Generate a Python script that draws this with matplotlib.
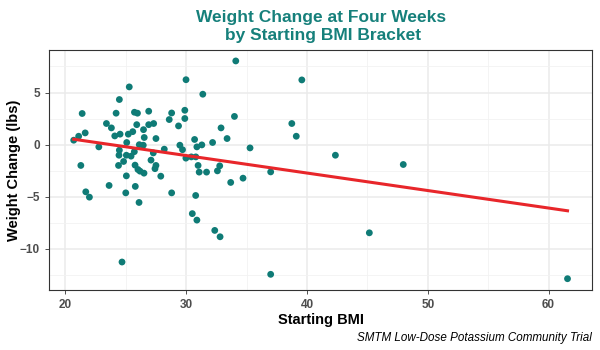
import numpy as np
import matplotlib.pyplot as plt
from matplotlib.ticker import MultipleLocator

# Starting BMI and weight change (lbs)
bmi = [20.68, 21.09, 21.63, 21.38, 21.27, 21.68, 21.98, 22.76, 23.39, 23.80,
       23.61, 24.08, 24.19, 24.46, 24.52, 24.46, 24.43, 24.39, 24.81, 24.68,
       25.04, 25.07, 25.04, 24.99, 25.20, 25.28, 25.43, 25.57, 25.71, 25.96,
       25.70, 25.90, 25.76, 26.00, 26.17, 26.50, 25.78, 26.09, 26.11, 26.44,
       26.46, 26.52, 26.89, 26.89, 27.30, 27.27, 27.08, 27.49, 27.41, 27.49,
       27.89, 28.18, 28.59, 28.79, 28.79, 29.36, 29.47, 29.69, 29.88, 29.88,
       29.98, 29.97, 30.42, 30.79, 30.69, 30.78, 30.50, 30.88, 30.88, 31.29,
       30.98, 31.07, 31.37, 31.68, 32.18, 32.36, 32.80, 32.58, 32.77, 32.88,
       33.38, 33.68, 33.99, 34.10, 34.70, 35.28, 36.99, 36.99, 38.74, 39.11,
       39.57, 42.35, 45.16, 47.97, 61.57]
weight_change = [0.43, 0.81, 1.13, 2.99, -1.99, -4.52, -5.03, -0.21, 2.03, 1.61,
                 -3.91, 0.84, 3.02, 4.33, 1.01, -0.53, -1.01, -1.99, -1.61, -11.25,
                 -1.01, 0.21, -2.99, -4.62, 1.01, 5.54, -1.10, 1.25, 3.11, 3.02,
                 -0.67, 1.92, -1.96, -2.38, -2.54, -2.73, -4.00, -5.54, 0.00, -0.05,
                 1.44, 0.69, 3.21, 1.92, 2.03, -0.79, -1.48, -1.99, -2.30, 0.59,
                 -3.02, -0.43, 2.41, 3.04, -4.62, 1.80, -0.05, -0.48, 3.30, 2.51,
                 6.23, -1.29, -1.17, -1.17, 0.50, -4.87, -6.61, -7.23, -0.21, -0.02,
                 -1.99, -2.63, 4.84, -2.63, 0.21, -8.22, -8.83, -2.51, -2.03, 1.61,
                 0.59, -3.62, 2.71, 8.03, -3.21, -0.31, -2.61, -12.43, 2.03, 0.81,
                 6.21, -1.01, -8.45, -1.90, -12.85]

x_ticks = [20, 30, 40, 50, 60]
y_ticks = [-10, -5, 0, 5]

plt.rcParams['font.family'] = ['Liberation Sans', 'DejaVu Sans']

x = np.array(bmi)
y = np.array(weight_change)

fig = plt.figure(figsize=(6, 3.5), dpi=100, facecolor='white')
ax = fig.add_axes([0.0817, 0.1726, 0.9053, 0.6844])

# minor + major grid like theme_bw
ax.xaxis.set_minor_locator(MultipleLocator(5))
ax.yaxis.set_minor_locator(MultipleLocator(2.5))
ax.grid(which='major', color='#EBEBEB', linewidth=1.1)
ax.grid(which='minor', color='#F2F2F2', linewidth=0.6)
ax.set_axisbelow(True)

ax.scatter(x, y, s=24, color='#0F7B76', edgecolors='none', zorder=3)

# linear fit
slope, intercept = np.polyfit(x, y, 1)
xs = np.array([x.min(), x.max()])
ax.plot(xs, intercept + slope * xs, color='#E8262A', linewidth=2.2, zorder=4)

# 5% expansion like ggplot
dx = (x.max() - x.min()) * 0.05
dy = (y.max() - y.min()) * 0.05
ax.set_xlim(x.min() - dx, x.max() + dx)
ax.set_ylim(y.min() - dy, y.max() + dy)

ax.set_xticks(x_ticks)
ax.set_yticks(y_ticks)
ax.tick_params(which='major', length=3, color='#333333', labelsize=8.5,
               labelcolor='#4D4D4D', width=0.6)
ax.tick_params(which='minor', length=0)
for lab in ax.get_xticklabels() + ax.get_yticklabels():
    lab.set_fontweight('bold')

for s in ax.spines.values():
    s.set_color('#333333')
    s.set_linewidth(0.8)

ax.set_xlabel('Starting BMI', fontsize=10.5, fontweight='bold', labelpad=1.5)
ax.set_ylabel('Weight Change (lbs)', fontsize=10.5, fontweight='bold')
ax.yaxis.set_label_coords(-0.052, 0.5)
ax.set_title('Weight Change at Four Weeks\n by Starting BMI Bracket',
             fontsize=12.5, fontweight='bold', color='#16807B',
             linespacing=1.3, pad=7)

fig.text(0.987, 0.035, 'SMTM Low-Dose Potassium Community Trial',
         fontsize=8.4, style='italic', ha='right', va='center', color='black')

fig.savefig('out.png', dpi=100, facecolor='white')
